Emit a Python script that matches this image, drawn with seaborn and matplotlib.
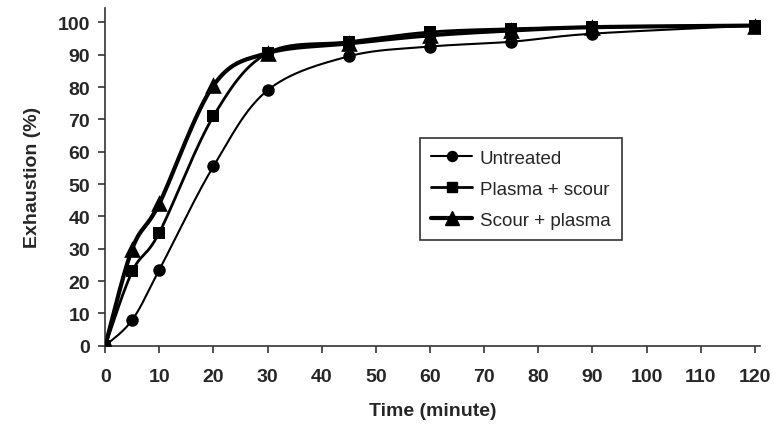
"""Dye exhaustion curves for untreated and plasma/scour treated fibres."""
import matplotlib
matplotlib.use("Agg")
import matplotlib.pyplot as plt
from matplotlib.lines import Line2D
import numpy as np
import pandas as pd
import seaborn as sns

time_min = [0, 5, 10, 20, 30, 45, 60, 75, 90, 120]
untreated = [0, 8, 23.5, 55.5, 79, 89.5, 92.5, 94, 96.5, 99]
plasma_scour = [0, 23, 35, 71, 90.5, 94, 97, 98, 98.5, 99]
scour_plasma = [0, 30, 44, 80.5, 90.5, 93.5, 96, 97.5, 98.5, 99]
series_names = ["Untreated", "Plasma + scour", "Scour + plasma"]
x_ticks = list(range(0, 121, 10))
y_ticks = list(range(0, 101, 10))


def smooth(x, y, n=30):
    # Catmull-Rom curve through the points, like a spreadsheet smoothed line.
    x = np.asarray(x, float)
    y = np.asarray(y, float)
    px = np.concatenate([[x[0]], x, [x[-1]]])
    py = np.concatenate([[y[0]], y, [y[-1]]])
    xs, ys = [], []
    t = np.linspace(0, 1, n)
    for i in range(1, len(px) - 2):
        for p, out in ((px, xs), (py, ys)):
            p0, p1, p2, p3 = p[i - 1], p[i], p[i + 1], p[i + 2]
            m1 = (p2 - p0) / 2
            m2 = (p3 - p1) / 2
            h00 = 2 * t**3 - 3 * t**2 + 1
            h10 = t**3 - 2 * t**2 + t
            h01 = -2 * t**3 + 3 * t**2
            h11 = t**3 - t**2
            out.extend(h00 * p1 + h10 * m1 + h01 * p2 + h11 * m2)
    return np.array(xs), np.array(ys)


def main() -> None:
    sns.set_style("ticks")
    plt.rcParams["font.family"] = ["Liberation Sans", "DejaVu Sans"]

    fig = plt.figure(figsize=(7.79, 4.39), dpi=100)
    ax = fig.add_axes([0.135, 0.21, 0.841, 0.77])

    styles = [("o", 9, 1.5), ("s", 8.5, 2.0), ("^", 12, 3.0)]
    handles = []
    for name, vals, (mk, ms, lw) in zip(series_names, [untreated, plasma_scour, scour_plasma], styles):
        sx, sy = smooth(time_min, vals)
        curve = pd.DataFrame({"t": sx, "v": sy})
        sns.lineplot(data=curve, x="t", y="v", ax=ax, color="black", linewidth=lw,
                     sort=False, estimator=None)
        pts = pd.DataFrame({"t": time_min, "v": vals})
        sns.scatterplot(data=pts, x="t", y="v", ax=ax, color="black", marker=mk,
                        s=ms**2, edgecolor="black", linewidth=0, zorder=5)
        handles.append(Line2D([], [], color="black", linewidth=lw, marker=mk, markersize=ms * 0.8))

    ax.set_xlim(0, 121)
    ax.set_ylim(0, 104.5)
    ax.set_xticks(x_ticks)
    ax.set_yticks(y_ticks)
    ax.tick_params(axis="both", labelsize=14, width=1.2, length=5, color="#333333")
    ax.tick_params(axis="x", pad=11)
    ax.tick_params(axis="y", pad=6)
    for lab in ax.get_xticklabels() + ax.get_yticklabels():
        lab.set_fontweight("bold")
    ax.set_xlabel("Time (minute)", fontsize=14, fontweight="bold", labelpad=12)
    ax.set_ylabel("Exhaustion (%)", fontsize=14, fontweight="bold", labelpad=12)
    for side in ("left", "bottom"):
        ax.spines[side].set_linewidth(1.2)
        ax.spines[side].set_color("#333333")
    sns.despine(ax=ax)

    leg = ax.legend(handles, series_names, loc="upper left", bbox_to_anchor=(0.466, 0.642),
                    fontsize=13.5, frameon=True, fancybox=False, edgecolor="black",
                    handlelength=2.2, handletextpad=0.4, borderpad=0.6, labelspacing=0.75)
    leg.get_frame().set_linewidth(1.2)

    fig.savefig("out.png", dpi=100)
    plt.close(fig)


if __name__ == "__main__":
    main()
